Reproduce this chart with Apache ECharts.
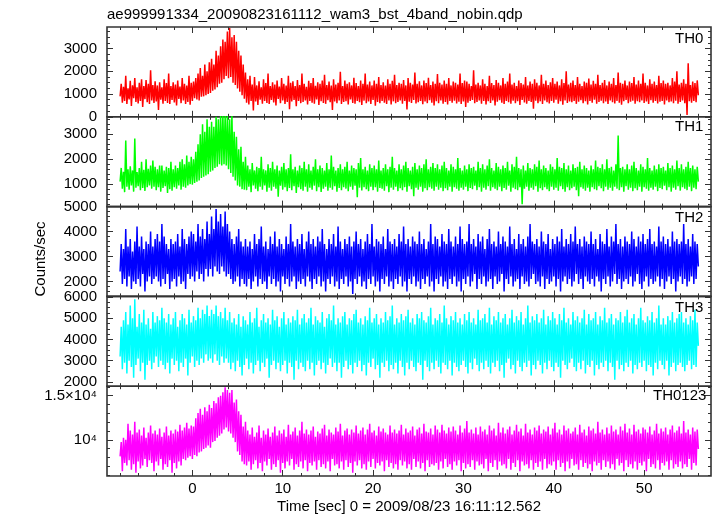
<!DOCTYPE html>
<html><head><meta charset="utf-8">
<script src="https://cdn.jsdelivr.net/npm/echarts@6/dist/echarts.min.js"></script>
<style>html,body{margin:0;padding:0;background:#fff}#c{width:717px;height:516px}</style>
</head><body><div id="c"></div>
<script>
const FONT = '"Liberation Sans", Arial, Helvetica, sans-serif';
const TITLE = 'ae999991334_20090823161112_wam3_bst_4band_nobin.qdp';
const X_TITLE = 'Time [sec] 0 = 2009/08/23 16:11:12.562';
const Y_TITLE = 'Counts/sec';

// time of first sample and sample spacing (s); one row = 2 s
const tStart = -8, tStep = 0.125;

const TH0 = [
900,1450,620,1320,700,1800,560,1250,760,1580,480,1390,820,1700,650,1300,
590,1500,700,1650,430,1350,780,1620,640,1450,560,2050,720,1400,610,1560,
680,1380,300,1520,750,1300,580,1650,700,1480,610,1900,560,1350,740,1520,
630,1420,500,1600,790,1330,600,1700,720,1450,560,1380,650,1800,530,1500,
700,1550,820,1700,760,1900,720,2150,880,1800,900,2300,950,2000,1000,2400,
1050,2550,1150,2300,1200,2900,1300,2700,1450,3100,1500,3400,1650,3300,1800,3750,
1700,3900,1750,3500,1500,3600,1400,3300,1250,2900,1100,2700,950,2300,800,1950,
620,1650,540,1800,700,1420,280,1750,680,1380,520,1560,750,1300,580,1650,
700,1480,610,1900,560,1350,740,1520,630,1420,500,1600,790,1330,600,1700,
720,1450,560,1380,650,1800,330,1500,680,1560,740,1350,470,1620,700,1400,
600,1900,650,1450,720,1320,540,1580,700,1480,620,1700,580,1360,760,1520,
520,1450,690,1600,610,1850,570,1400,730,1550,640,1380,300,1650,680,1420,
600,1500,720,1980,560,1350,650,1600,690,1450,540,1520,760,1380,610,1720,
580,1480,700,1350,640,1600,520,1450,710,1900,600,1420,680,1550,560,1380,
740,1600,490,1450,650,1750,600,1400,700,1520,620,1380,560,1650,720,1450,
540,1580,680,1850,600,1400,650,1500,720,1450,580,1620,700,1380,320,1700,
660,1500,610,1420,740,1950,590,1450,640,1560,700,1380,550,1600,680,1480,
600,1720,730,1400,620,1550,500,1450,690,1880,600,1500,720,1420,580,1600,
650,1450,540,1700,700,1380,620,1550,710,1500,590,1420,660,1900,560,1480,
680,1600,430,1550,620,1450,700,1350,740,2050,600,1420,650,1500,720,1380,
580,1650,700,1450,540,1350,690,1800,610,1480,720,1400,500,1620,660,1500,
730,1380,620,1700,560,1450,700,1550,640,1900,580,1420,710,1500,600,1350,
690,1600,520,1480,740,1420,630,1750,580,1380,700,1550,650,1450,360,1650,
710,1500,600,1380,680,1850,560,1450,720,1600,640,1400,590,1520,700,1700,
620,1450,750,1550,580,1380,690,1650,530,1480,720,2000,610,1420,680,1500,
640,1600,700,1400,570,1750,660,1450,730,1350,600,1550,690,1500,540,1680,
700,1420,620,1580,750,1450,580,1850,650,1400,710,1500,600,1620,680,1380,
560,1550,720,1450,640,1700,590,1400,700,1950,620,1500,530,1450,690,1600,
740,1380,600,1550,660,1480,710,1750,580,1420,690,1600,640,1450,720,1900,
610,1500,680,1380,560,1650,730,1450,620,1550,700,1400,590,1800,660,1480,
700,1600,540,1450,720,1500,640,1380,680,1700,600,1550,710,2000,580,1420,
650,1500,720,1650,600,1450,80,2350,690,1400,620,1550,700,1480,640,1600,
950];

const TH1 = [
1100,1650,820,1500,680,2750,900,1600,780,1720,950,1550,700,2830,860,1480,
920,1650,760,1900,850,1580,730,2000,880,1620,950,1750,820,1950,900,1700,
760,1600,880,1750,700,1750,850,1550,920,1700,650,1650,800,1900,740,1600,
880,1750,820,1650,950,1900,780,2000,900,1800,860,2150,950,1900,1000,2100,
980,2000,1050,2300,1100,2600,1150,3000,1250,3400,1300,3100,1350,3600,1400,3300,
1500,3500,1550,3300,1650,3700,1700,3600,1800,3800,1750,3800,1800,3750,1750,3800,
1600,3600,1450,3800,1300,3100,1150,2900,950,2400,900,2500,800,1900,780,2100,
760,1750,900,1600,680,1850,950,1550,820,1700,720,1650,900,2100,780,1600,
950,1550,700,1800,860,1650,740,1900,900,1600,820,1750,500,1550,940,1700,
780,1850,880,1600,720,1650,850,2200,760,1600,920,1700,650,1550,880,1750,
800,1650,740,1900,900,1600,700,1800,860,1550,780,1700,940,2000,720,1600,
880,1750,690,1650,820,1550,900,1850,740,1600,860,2150,780,1700,920,1550,
700,1650,850,1800,760,1600,880,1700,820,1900,720,1550,900,1750,780,1650,
940,1600,480,1850,860,2050,750,1600,880,1700,800,1550,720,1800,900,1650,
760,1750,880,1600,700,1950,850,1550,820,1650,740,1800,920,1600,680,1700,
860,2100,780,1650,900,1550,720,1800,840,1600,760,1750,880,1900,700,1650,
920,1550,800,1700,520,1850,860,1600,780,1750,900,1650,700,1800,840,2000,
760,1600,880,1700,820,1850,740,1650,900,1800,780,1600,860,1750,720,1900,
840,1650,760,1550,900,1800,700,1700,880,1600,820,2050,740,1650,860,1550,
780,1750,900,1600,720,1800,850,1650,800,1700,940,1550,760,1900,880,1650,
700,1800,860,1600,780,1750,920,2000,740,1650,880,1550,820,1850,760,1700,
900,1600,720,1750,850,1650,780,1900,940,1550,700,1800,860,1700,800,2100,
760,1650,880,1600,200,1750,820,1550,900,1850,740,1650,860,1600,780,1800,
920,1700,700,1950,840,1600,760,1750,880,1650,800,1550,720,1800,900,1700,
780,1600,860,2050,740,1700,920,1650,800,1850,700,1600,880,1750,760,1550,
840,1800,900,1650,760,1700,520,1900,880,1600,820,1750,740,1650,860,1550,
700,1750,880,1600,800,1950,760,1700,920,1650,840,1800,720,1600,900,2000,
780,1650,860,1700,740,1550,900,1800,820,2950,760,1650,880,1700,700,1600,
920,1800,780,1600,860,1750,720,1900,840,1650,760,1550,900,1800,700,1700,
880,1600,820,2050,740,1650,860,1550,780,1750,900,1600,720,1800,850,1650,
800,1700,940,1550,760,1850,880,1650,700,1750,860,1600,780,1950,920,1650,
740,1800,880,1600,820,1700,760,1900,900,1650,720,1750,860,1600,800,1700,
1100];

const TH2 = [
2400,3500,1900,3300,2100,4100,1800,3400,2200,3700,1700,3200,2000,3600,1900,4200,
2100,3400,1800,3800,2300,3300,1600,3600,2000,3500,2200,4000,1900,3400,2100,3700,
2200,3900,2000,3600,1800,4300,2100,3800,1900,3500,2300,3300,1700,3700,2000,3500,
2100,3600,1800,3900,2200,3400,1900,4100,2000,3700,1700,3500,2300,3800,2100,4000,
2200,3900,2000,3600,2400,4300,2100,3800,2300,4100,2000,3700,2500,4400,2200,3900,
2500,4600,2200,4100,2600,4900,2400,4400,2300,4700,2600,4200,2400,4800,2200,4300,
2300,4000,2100,3700,1900,3500,2000,3800,2200,4100,1800,3600,2100,3400,1900,3700,
1800,3400,2100,3600,1700,3300,2000,3900,2200,3500,1800,3700,2100,4200,1900,3400,
2000,3600,1700,3300,2200,3800,1900,3500,2100,4000,1800,3400,2000,3700,1600,3500,
2200,3300,1900,3800,2100,3500,1800,4300,2000,3600,2200,3400,1700,3700,2000,3500,
1900,3900,2100,3300,1800,3600,2200,4000,2000,3500,1700,3700,2100,3400,1900,3800,
2200,3600,1800,4100,2000,3500,1600,3300,2100,3700,1900,3500,2200,3900,1800,3400,
2000,4200,1700,3600,2100,3300,1900,3700,2200,3500,1800,3800,2000,3400,1500,3600,
2100,4000,1900,3500,2200,3700,1800,3300,2000,3600,1700,3900,2100,3500,1900,4300,
2200,3400,1800,3700,2000,3600,1600,3500,2100,3800,1900,3300,2200,4100,1800,3600,
2000,3500,1700,3700,2100,3400,1900,3900,2200,3600,1800,4200,2000,3500,1600,3700,
2100,3400,1900,3800,2200,3600,1800,3500,2000,4000,1700,3500,2100,3700,1900,3300,
2200,3600,1800,4300,2000,3500,1600,3800,2100,3700,1900,3400,2200,3900,1800,3600,
2000,3500,1700,4100,2100,3600,1900,3400,2200,3800,1800,3500,2000,4200,1600,3700,
2100,3500,1900,3600,2200,4300,1800,3500,2000,3700,2300,3400,1700,3900,2100,3600,
1900,3800,2200,3300,1800,3700,2000,4100,2100,3500,1700,3600,2200,3400,1900,4000,
2000,3500,2300,3800,1600,3600,2100,3400,1900,4200,2200,3500,1800,3700,2000,3300,
2100,3900,1700,3500,2200,3700,1900,3400,2000,3800,1800,4300,2100,3600,2300,3500,
1900,3700,2000,3400,1800,4000,2200,3600,1700,3500,2100,3900,1900,3300,2000,3700,
2200,3500,1800,3800,2100,3600,1600,4100,2000,3400,2200,3700,1900,3500,2100,3900,
1800,3600,2000,4200,2300,3500,1900,3700,2100,3400,1700,3800,2200,3600,2000,3500,
1900,4000,2100,3500,1800,3700,2200,3300,2000,3900,1600,3600,2100,3500,1900,4100,
2200,3400,1800,3800,2000,3600,2300,4300,1900,3500,2100,3700,1700,3400,2000,3800,
2100,3600,1900,3500,2200,4000,1800,3700,2000,3400,2300,3800,1900,3600,1700,3900,
2000,3500,2200,3700,1800,4100,2100,3500,1900,3600,2000,3400,2200,4200,1800,3600,
2100,3800,1700,3500,2000,3700,2200,3400,1900,4000,2100,3600,1600,3700,2000,3500,
2200,3600,1900,4300,2100,3500,1800,3700,2000,3400,2200,3900,1900,3600,2100,3500,
2600];

const TH3 = [
3200,4600,2600,4900,2900,5300,2400,4700,3000,5600,2700,5000,2200,5900,2800,4600,
3100,5200,2500,4800,2900,5400,2100,4700,2800,5000,3000,4500,2600,5300,2900,4800,
3200,5100,2700,4900,3000,5500,2800,5000,2600,4800,2900,5200,2400,4700,3100,5000,
2800,5300,3000,4600,2500,4900,2900,5200,2700,5000,3100,4700,2300,5400,2900,4800,
3200,5100,2700,4900,3000,5500,2800,5000,3100,5400,2900,5200,3300,5600,3000,5100,
3100,5400,2900,5200,3300,5600,3000,5100,2800,5300,3200,5000,2900,5500,3100,4900,
2900,5300,2600,4800,2900,5000,2500,4700,3000,5200,2700,4600,2300,5100,2800,4900,
3100,4700,2600,5300,2900,4800,2400,5000,2800,5500,3000,4600,2500,4900,2900,5200,
2700,4800,3100,5000,2200,4700,2800,5400,3000,4900,2600,5100,2900,4600,2500,5000,
2800,5300,3000,4700,2400,5000,2900,4800,2700,5100,2100,4900,3000,5400,2600,4700,
2900,5000,2700,5200,2500,4800,3000,5000,2600,5500,2900,4700,2300,5100,2800,4900,
3000,4800,2600,5300,2900,4600,2400,5000,2800,5200,3100,4900,2700,5600,2900,4700,
2500,5000,2900,4800,2200,5100,2700,5300,3000,4700,2600,5000,2800,4900,2400,5200,
2900,5400,2700,4800,3000,5000,2500,4700,2800,5100,2300,4900,2900,5500,2700,4800,
3100,5000,2600,5200,2800,4700,2200,5000,2900,4800,2700,5300,3000,4900,2500,5100,
2800,5600,2600,4700,2900,5000,2400,4800,3000,5200,2700,4900,2300,5100,2900,5400,
2600,4800,3000,5000,2700,4700,2500,5200,2900,5000,2800,5300,2100,4900,3000,4800,
2700,5100,2500,5500,2900,4700,2600,5000,3000,4900,2700,5200,2400,4800,2900,5600,
2800,5000,2600,4700,3000,5100,2300,4900,2900,5300,2700,4800,2500,5000,2800,4700,
3000,5200,2700,4900,2400,5300,2900,4800,2600,5000,3100,4700,2800,5400,2500,4900,
2900,5000,2600,5200,3000,4800,2700,5500,2400,4700,2900,5100,2700,4900,3000,5300,
2500,4800,2800,5000,2200,5200,2900,4700,3100,5000,2600,5400,2800,4800,2400,5100,
3000,4900,2700,5300,2500,4700,2900,5000,2700,5600,3000,4800,2300,5100,2800,4900,
2600,5200,3000,4800,2800,5000,2400,5400,2900,4700,2600,5100,3000,4900,2700,5300,
2500,5000,2900,4700,2700,5200,2200,4900,3000,5500,2800,4800,2600,5000,2900,4700,
3100,5300,2700,4900,2500,5100,2900,4800,2600,5000,3000,5400,2400,4700,2800,5200,
2700,4900,3000,5000,2300,5300,2800,4700,2600,5100,2900,4900,2700,5500,3000,4800,
2500,5000,2900,5200,2700,4700,2100,5000,3000,4900,2600,5300,2800,4800,2500,5100,
2900,5400,2700,4800,3000,5000,2400,5200,2800,4700,2600,5000,2900,5500,2700,4900,
3000,4800,2500,5100,2800,4900,2700,5300,2300,4800,2900,5000,2600,5600,3000,4700,
2800,5000,2600,4700,3000,5100,2300,4900,2700,5300,2900,4800,2500,5000,2800,5200,
2900,5300,2700,4800,2500,5000,2800,4700,3000,5100,2600,4900,2800,5400,2700,4800,
3700];

const TH0123 = [
8600,9800,7500,10200,8100,10000,7900,11600,8300,10900,7600,10500,8000,11800,7400,10700,
8200,11000,7700,10400,7900,11200,8400,10200,7800,10700,8300,11400,8100,10600,7500,10900,
8200,10500,7900,11100,8400,10300,7600,10700,8000,11300,7800,10400,8300,10900,7400,10600,
8100,11000,7700,10800,8200,11500,7900,10900,8400,11200,8300,11700,8500,11100,8600,11400,
8400,11300,8700,12200,8600,12800,8900,13300,9000,12600,9200,13500,9300,13000,9500,13800,
9300,13400,9800,14300,9900,14000,10200,14800,10400,15000,10600,15500,11000,16200,11200,15800,
10800,15400,10600,15800,10200,14100,9800,14500,9000,13000,8700,12600,8200,11300,8000,11800,
7900,10900,8200,10500,7600,11200,8000,10300,8300,10700,7700,11400,8100,10200,7500,10900,
8200,10500,7900,11100,8400,10300,7600,10700,8000,11300,7800,10400,8300,10900,7400,10600,
8100,11000,7700,10300,8200,11500,7900,10500,8400,10800,7600,11200,8000,10400,7800,10900,
8200,11800,7700,10600,8300,11000,7500,10500,8100,10900,7900,11300,8200,10300,7600,10800,
8300,10600,7800,11100,8000,11500,7700,10400,8200,11000,7500,10700,8400,10500,7900,11200,
8000,10800,7700,11600,8200,10400,7600,10900,8300,11100,7800,10500,8100,11000,7400,10700,
8200,11400,7900,10600,8300,10900,7700,11200,8000,10500,7600,11000,8200,11600,7800,10700,
8400,10900,7700,10400,8100,11300,7900,10800,8200,11100,7500,10700,8300,10500,7800,11400,
8100,10700,7700,11000,8000,10600,7600,10900,8300,11500,7900,10500,8200,11100,7700,10700,
8000,10900,7600,11300,8400,10400,7800,11000,8200,11200,7700,10600,8100,11600,7500,10800,
8300,10700,7800,11100,8000,10500,7900,11400,8100,11000,7600,10700,8200,11500,7700,10900,
8400,10600,7800,11200,8000,10800,7600,11300,8200,10900,7900,10500,8300,11400,7500,10700,
8100,11100,7700,11900,8000,10700,7800,11000,8300,10600,7600,11200,8200,10500,7900,11300,
8000,10800,7700,11000,8400,10500,7500,11400,8100,10900,7800,11100,8300,10400,7600,11700,
8200,10700,7900,11200,8000,10600,7700,11000,8400,11300,7600,10500,8100,10900,7800,11500,
8300,10800,7500,11100,8200,10400,7900,11600,8000,10700,7700,11000,8300,10500,7600,11200,
8100,10900,7800,11400,8200,10600,7600,11000,8400,10800,7700,11300,8000,10500,7900,11100,
8200,11700,7600,10700,8300,11000,7800,10500,8100,11400,7500,10900,8200,11100,7700,10600,
8400,10800,7900,11200,8000,10500,7600,11500,8300,10700,7800,11000,8100,10400,7700,11300,
8000,10900,7500,11100,8200,10600,7900,11800,8100,10700,7600,11000,8300,10500,7800,11200,
8200,10600,7700,11400,8000,10800,7600,11000,8400,10500,7900,11300,8100,10900,7500,11600,
8300,10700,7800,11100,8000,10500,7700,11500,8200,10800,7600,11000,8100,10600,7900,11200,
8200,11000,7500,10700,8400,11300,7800,10500,8000,10900,7700,11600,8300,10600,7600,11100,
8100,10800,7900,11200,8200,10500,7600,11000,8300,11400,7700,10700,8000,10900,7800,11300,
8200,10600,7700,11900,8000,10700,7800,11000,8400,10500,7600,11200,8100,10800,7900,11000,
9200];

// axis ticks / labels
const xMajor = [0,10,20,30,40,50];
const xMinor = [-8,-6,-4,-2,2,4,6,8,12,14,16,18,22,24,26,28,32,34,36,38,42,44,46,48,52,54,56];
const th0Ticks = [0,1000,2000,3000];
const th0Minor = [250,500,750,1250,1500,1750,2250,2500,2750,3250,3500,3750];
const th1Ticks = [1000,2000,3000];
const th1Minor = [200,400,600,800,1200,1400,1600,1800,2200,2400,2600,2800,3200,3400,3600];
const th2Ticks = [2000,3000,4000,5000];
const th2Minor = [1400,1600,1800,2200,2400,2600,2800,3200,3400,3600,3800,4200,4400,4600,4800];
const th3Ticks = [2000,3000,4000,5000,6000];
const th3Minor = [2250,2500,2750,3250,3500,3750,4250,4500,4750,5250,5500,5750];
const th0123Ticks = [10000,15000];
const th0123TickText = ['10⁴','1.5×10⁴'];
const th0123Minor = [7229,7840,8503,9221,10845,11761,12755,13833,16268];

const panels = [
  {name:'TH0', data:TH0, color:'#ff0000', type:'value', min:0, max:3950, ticks:th0Ticks, minor:th0Minor, lx:675, ly:39.2},
  {name:'TH1', data:TH1, color:'#00ff00', type:'value', min:100, max:3700, ticks:th1Ticks, minor:th1Minor, lx:675, ly:127.2},
  {name:'TH2', data:TH2, color:'#0000ff', type:'value', min:1400, max:5000, ticks:th2Ticks, minor:th2Minor, lx:675, ly:217.5},
  {name:'TH3', data:TH3, color:'#00ffff', type:'value', min:1800, max:6030, ticks:th3Ticks, minor:th3Minor, lx:675, ly:307.5},
  {name:'TH0123', data:TH0123, color:'#ff00ff', type:'log', min:7180, max:16370, ticks:th0123Ticks, minor:th0123Minor, text:th0123TickText, lx:653, ly:396}
];

const gridTops = [27,116.8,206.6,296.4,386.2];
const gridH = 89.8;
const FRAME = '#333';
const XMIN = -9.45, XMAX = 57.4;

const grid = [], xAxis = [], yAxis = [], series = [], graphic = [];

panels.forEach((p, i) => {
  grid.push({left:107, right:6, top:gridTops[i], height:gridH, show:true,
    borderColor:FRAME, borderWidth:1.6, backgroundColor:'transparent'});
  const last = i === panels.length - 1;
  const xi = xAxis.length, yi = yAxis.length;
  [['bottom', xMajor, 6, last], ['bottom', xMinor, 3, false], ['top', xMajor, 6, false], ['top', xMinor, 3, false]]
  .forEach(([pos, vals, len, lab]) => {
    xAxis.push({type:'value', gridIndex:i, position:pos, min:XMIN, max:XMAX,
      axisLine:{show:false, onZero:false}, splitLine:{show:false},
      axisTick:{show:true, inside:true, length:len, customValues:vals, lineStyle:{color:FRAME, width:1}},
      axisLabel:{show:lab, customValues:xMajor, margin:5, color:'#000', fontSize:15, fontFamily:FONT,
        formatter:v => String(v)}});
  });
  const fmt = p.text
    ? (v => { const k = p.ticks.findIndex(t => Math.abs(t - v) / t < 1e-6); return k >= 0 ? p.text[k] : ''; })
    : (v => String(v));
  [['left', p.ticks, 6, true], ['left', p.minor, 3, false], ['right', p.ticks, 6, false], ['right', p.minor, 3, false]]
  .forEach(([pos, vals, len, lab]) => {
    const ax = {type:p.type, gridIndex:i, position:pos, min:p.min, max:p.max,
      axisLine:{show:false, onZero:false}, splitLine:{show:false},
      axisTick:{show:true, inside:true, length:len, customValues:vals, lineStyle:{color:FRAME, width:1}},
      axisLabel:{show:lab, customValues:p.ticks, margin:10, color:'#000', fontSize:15, fontFamily:FONT, formatter:fmt}};
    if (p.type === 'log') ax.logBase = 10;
    yAxis.push(ax);
  });
  series.push({type:'line', xAxisIndex:xi, yAxisIndex:yi,
    data:p.data.map((v, k) => [tStart + k * tStep, v]),
    showSymbol:false, symbol:'none', animation:false, silent:true, clip:true,
    lineStyle:{color:p.color, width:1.5}, itemStyle:{color:p.color}});
  graphic.push({type:'text', x:p.lx, y:p.ly, z:100,
    style:{text:p.name, fontSize:15, fontFamily:FONT, fill:'#000', align:'left', verticalAlign:'middle'}});
});

graphic.push({type:'text', x:107, y:15, style:{text:TITLE, fontSize:15, fontFamily:FONT, fill:'#000', align:'left', verticalAlign:'middle'}});
graphic.push({type:'text', x:409, y:507, style:{text:X_TITLE, fontSize:15, fontFamily:FONT, fill:'#000', align:'center', verticalAlign:'middle'}});
graphic.push({type:'text', x:41, y:259, rotation:Math.PI / 2, style:{text:Y_TITLE, fontSize:15, fontFamily:FONT, fill:'#000', align:'center', verticalAlign:'middle'}});

const chart = echarts.init(document.getElementById('c'), null, {renderer:'canvas'});
chart.setOption({animation:false, backgroundColor:'#fff', textStyle:{fontFamily:FONT},
  grid, xAxis, yAxis, series, graphic});
</script></body></html>
